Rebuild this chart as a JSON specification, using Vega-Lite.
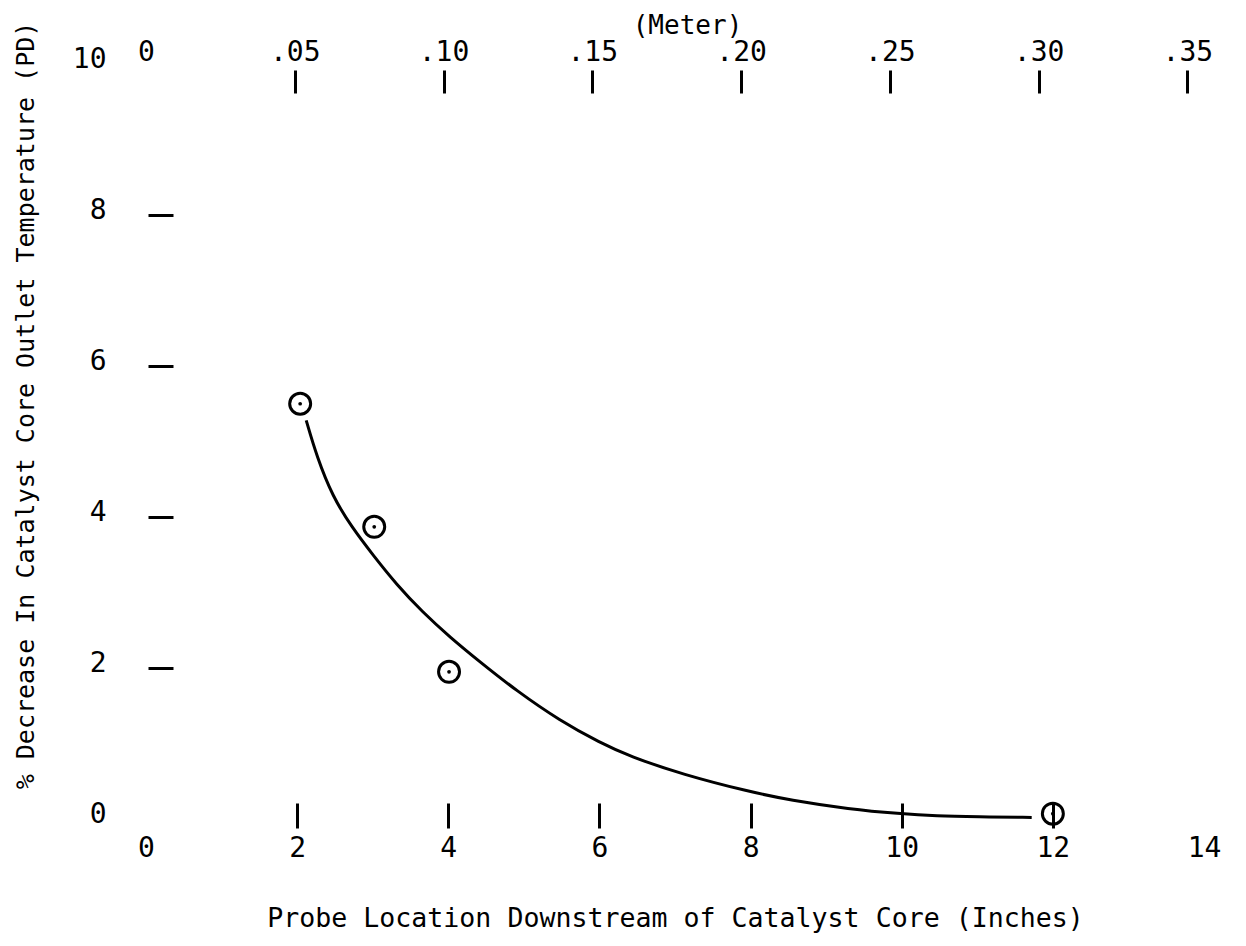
{
  "$schema": "https://vega.github.io/schema/vega-lite/v6.json",
  "width": 1058,
  "height": 755,
  "autosize": {"type": "none"},
  "padding": {"left": 146, "top": 64, "right": 42, "bottom": 127},
  "background": "white",
  "config": {
    "view": {"stroke": null},
    "font": "DejaVu Sans Mono",
    "axis": {
      "domain": false,
      "grid": false,
      "labelColor": "black",
      "titleColor": "black",
      "tickColor": "black",
      "labelFont": "DejaVu Sans Mono",
      "titleFont": "DejaVu Sans Mono",
      "labelFontSize": 28,
      "titleFontSize": 26,
      "titleFontWeight": "normal",
      "labelFlush": false,
      "labelOverlap": false
    }
  },
  "datasets": {
    "curve": [
      {"inches": 2.12, "pd": 5.28},
      {"inches": 2.26, "pd": 4.8},
      {"inches": 2.47, "pd": 4.27},
      {"inches": 2.72, "pd": 3.87},
      {"inches": 3.0, "pd": 3.5},
      {"inches": 3.32, "pd": 3.1},
      {"inches": 3.66, "pd": 2.74},
      {"inches": 4.02, "pd": 2.41},
      {"inches": 4.42, "pd": 2.08},
      {"inches": 4.9, "pd": 1.7},
      {"inches": 5.48, "pd": 1.3},
      {"inches": 6.01, "pd": 1.01},
      {"inches": 6.4, "pd": 0.83},
      {"inches": 7.1, "pd": 0.59},
      {"inches": 7.99, "pd": 0.36},
      {"inches": 8.52, "pd": 0.25},
      {"inches": 9.31, "pd": 0.13},
      {"inches": 9.97, "pd": 0.07},
      {"inches": 10.46, "pd": 0.04},
      {"inches": 11.0, "pd": 0.03},
      {"inches": 11.72, "pd": 0.02}
    ],
    "probes": [
      {"inches": 2.04, "pd": 5.5},
      {"inches": 3.02, "pd": 3.87},
      {"inches": 4.01, "pd": 1.95},
      {"inches": 12.0, "pd": 0.07}
    ]
  },
  "layer": [
    {
      "data": {"name": "curve"},
      "mark": {"type": "line", "interpolate": "basis", "color": "black", "strokeWidth": 3},
      "encoding": {
        "x": {
          "field": "inches",
          "type": "quantitative",
          "scale": {"domain": [0, 14], "nice": false, "zero": true},
          "axis": {
            "orient": "bottom",
            "values": [0, 2, 4, 6, 8, 10, 12, 14],
            "format": "d",
            "offset": -16,
            "tickSize": 25,
            "tickWidth": 3,
            "tickOpacity": {"condition": {"test": "datum.value == 0 || datum.value == 14", "value": 0}, "value": 1},
            "labelPadding": 6,
            "title": "Probe Location Downstream of Catalyst Core (Inches)",
            "titleFontSize": 26.6,
            "titleY": 115,
            "titleBaseline": "middle"
          }
        },
        "y": {
          "field": "pd",
          "type": "quantitative",
          "scale": {"domain": [0, 10], "nice": false, "zero": true},
          "axis": {
            "values": [0, 2, 4, 6, 8, 10],
            "format": "d",
            "offset": -27,
            "tickSize": 25,
            "tickWidth": 3,
            "tickOpacity": {"condition": {"test": "datum.value == 0 || datum.value == 10", "value": 0}, "value": 1},
            "labelPadding": 42,
            "labelOffset": -5,
            "title": "% Decrease In Catalyst Core Outlet Temperature (PD)",
            "titleFontSize": 25,
            "titleX": -148,
            "titleY": 341,
            "titleBaseline": "middle"
          }
        }
      }
    },
    {
      "data": {"name": "probes"},
      "mark": {"type": "point", "shape": "circle", "size": 440, "filled": false, "color": "black", "strokeWidth": 3, "opacity": 1},
      "encoding": {
        "x": {
          "field": "inches",
          "type": "quantitative",
          "scale": {"domain": [0, 14], "nice": false, "zero": true},
          "axis": {
            "orient": "top",
            "values": [0, 1.9685, 3.937, 5.9055, 7.874, 9.8425, 11.811, 13.7795],
            "labelExpr": "datum.value < 0.01 ? '0' : replace(format(datum.value * 0.0254, '.2f'), '0.', '.')",
            "offset": -29,
            "tickSize": 23,
            "tickWidth": 3,
            "tickOpacity": {"condition": {"test": "datum.value < 0.01", "value": 0}, "value": 1},
            "labelPadding": 4,
            "title": "(Meter)",
            "titleX": 541,
            "titleY": -68,
            "titleBaseline": "middle"
          }
        },
        "y": {"field": "pd", "type": "quantitative", "scale": {"domain": [0, 10], "nice": false, "zero": true}}
      }
    },
    {
      "data": {"name": "probes"},
      "mark": {"type": "point", "shape": "circle", "size": 14, "filled": true, "color": "black", "opacity": 1},
      "encoding": {
        "x": {"field": "inches", "type": "quantitative", "scale": {"domain": [0, 14], "nice": false, "zero": true}, "axis": null},
        "y": {"field": "pd", "type": "quantitative", "scale": {"domain": [0, 10], "nice": false, "zero": true}}
      }
    }
  ],
  "resolve": {"axis": {"x": "independent"}}
}
